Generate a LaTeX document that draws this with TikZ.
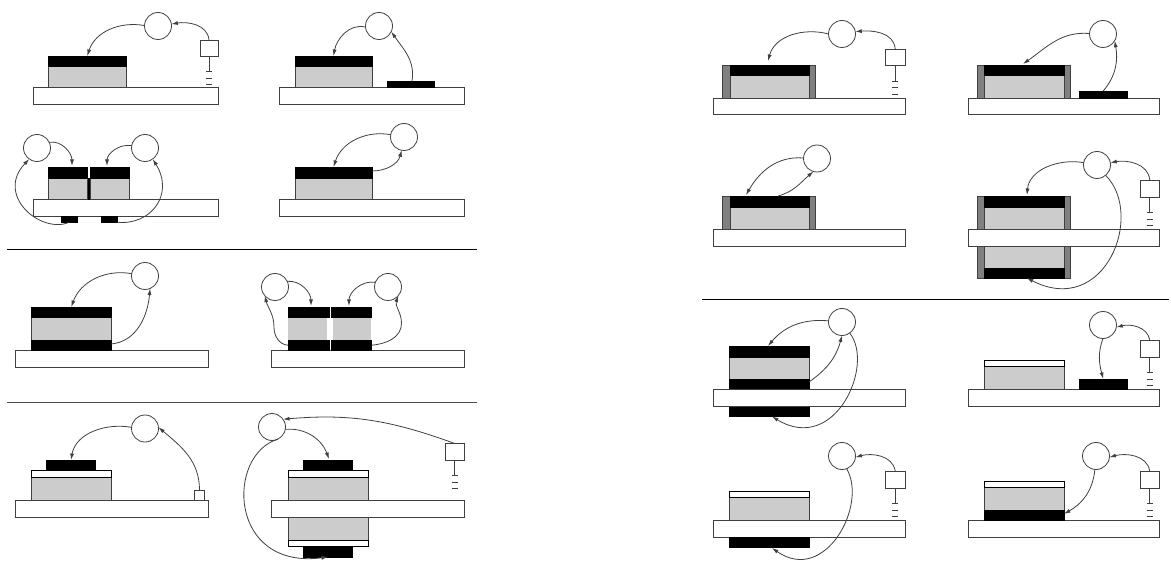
\documentclass[tikz,border=0pt]{standalone}
\usepackage{tikz}
\usetikzlibrary{arrows.meta,calc}

\tikzset{
  box/.style={rectangle, inner sep=0pt, outer sep=0pt, draw=black!75, line width=0.8pt},
  board/.style={box, fill=white},
  core/.style={box, fill=black!20},
  film/.style={box, draw=black, fill=white},
  plate/.style={box, draw=black, fill=black},
  seal/.style={box, fill=black!50},
  ring/.style={circle, inner sep=0pt, outer sep=0pt, minimum size=27pt, draw=black!75, line width=0.8pt, fill=white},
  wire/.style={black!75, line width=0.8pt},
  feed/.style={wire, -{Latex[length=6.5pt,width=4pt]}},
}
% slab: style, name, x0, y0, x1, y1
\newcommand{\slab}[6]{\node[#1, minimum width={#5-(#3)}, minimum height={#6-(#4)}] (#2) at ({(#3+#5)/2},{(#4+#6)/2}) {};}
% earth symbol under a supply box
\newcommand{\earth}[1]{
  \draw[wire] (#1.south) -- ++(0,15.5) coordinate (#1g);
  \foreach \dy in {0,6.7,13.3}
    \draw[wire] ($(#1g)+(-3,\dy)$) -- ++(6,0);
}

\begin{document}
\begin{tikzpicture}[x=1pt, y=-1pt]
  \useasboundingbox (0,0) rectangle (1171,561);
%
  \draw[line width=0.9pt] (7,249) -- (477,249);
  \draw[line width=0.9pt, black!70] (7,402.5) -- (477,402.5);
  \draw[line width=0.9pt] (702,299) -- (1169,299);
%
  % top left group
  \slab{board}{ba}{33}{87.5}{218}{104}
  \slab{core}{ka}{48.5}{66}{126}{87.5}
  \slab{plate}{pa}{48.5}{56}{126}{66}
  \node[ring] (ra) at (158,26) {};
  \slab{board}{sa}{200}{40}{218}{56}
  \earth{sa}
  \draw[feed] (ra.178) to[out=170,in=72] (pa.north);
  \draw[feed] (sa.north) to[out=95,in=10] (ra.8);
%
  \slab{board}{bb}{279.5}{87.5}{464.5}{104}
  \slab{core}{kb}{295}{66}{372}{87.5}
  \slab{plate}{pb}{295}{56}{372}{66}
  \slab{plate}{qb}{387}{81.5}{434}{87.5}
  \node[ring] (rb) at (379,26) {};
  \draw[feed] (rb.185) to[out=165,in=80] (pb.north);
  \draw[feed] (qb.65) to[out=80,in=-55] (rb.-25);
%
  \slab{board}{bc}{33}{199.5}{218}{216}
  \slab{plate}{gc}{87}{178}{89.5}{199.5}
  \slab{core}{kc}{48.5}{178}{87}{199.5}
  \slab{plate}{pc}{48.5}{167}{87}{178}
  \slab{core}{kd}{90.5}{178}{129}{199.5}
  \slab{plate}{pd}{90.5}{167}{129}{178}
  \slab{plate}{qc}{61}{216}{77}{222.5}
  \slab{plate}{qd}{101}{216}{117}{222.5}
  \node[ring] (rc) at (37,148) {};
  \node[ring] (rd) at (145,148) {};
  \coordinate (tc) at (72,166);
  \coordinate (td) at (107,166);
  \draw[feed] (rc.25) to[out=10,in=90] (tc);
  \draw[feed] (rd.170) to[out=170,in=90] (td);
  \draw[feed] (qc.south) .. controls (40,234) and (-5,195) .. (rc.-125);
  \draw[feed] (qd.-20) .. controls (150,226) and (175,195) .. (rd.-55);
%
  \slab{board}{be}{279.5}{199.5}{464.5}{216}
  \slab{core}{ke}{295}{178}{372}{199.5}
  \slab{plate}{pe}{295}{167}{372}{178}
  \node[ring] (re) at (404,137) {};
  \coordinate (te) at (372,171);
  \draw[feed] (re.170) to[out=170,in=72] (pe.north);
  \draw (te) edge[feed, out=0, in=-105] (re.-100);
%
  % second row, left
  \slab{board}{bf}{15.5}{350.5}{208.5}{367}
  \slab{core}{kf}{31.5}{317.5}{111}{340}
  \slab{plate}{pf}{31.5}{307}{111}{317.5}
  \slab{plate}{qf}{31.5}{340}{111}{350.5}
  \node[ring] (rf) at (145,276) {};
  \coordinate (tf) at (111,344);
  \draw[feed] (rf.170) to[out=170,in=70] (pf.north);
  \draw (tf) edge[feed, out=5, in=-95] (rf.-68);
%
  \slab{board}{bg}{271.5}{350.5}{464.5}{367}
  \fill[black!20] (288,317) rectangle (327,340);
  \fill[black!20] (333,317) rectangle (371,340);
  \slab{plate}{pg}{288}{307}{329}{317.5}
  \slab{plate}{qg}{288}{340}{329}{350.5}
  \slab{plate}{ph}{331}{307}{371.5}{317.5}
  \slab{plate}{qh}{331}{340}{371.5}{350.5}
  \node[ring] (rg) at (275,287) {};
  \node[ring] (rh) at (388,287) {};
  \coordinate (tg) at (311,306);
  \coordinate (th) at (349,306);
  \draw[feed] (rg.25) to[out=5,in=90] (tg);
  \draw[feed] (rh.160) to[out=170,in=90] (th);
  \draw[feed] (qg.west) to[out=175,in=-90] ++(-14,-18) to[out=90,in=-75] (rg.-140);
  \draw[feed] (qh.east) to[out=5,in=-90] ++(30,-22) to[out=90,in=-110] (rh.-40);
%
  % third row, left
  \slab{board}{bi}{15}{500}{208}{517}
  \slab{core}{ki}{31.5}{477}{111}{500}
  \slab{film}{fi}{31.5}{470.5}{111}{477}
  \slab{plate}{pi}{46.5}{460}{95.5}{470.5}
  \node[ring] (ri) at (145,428.5) {};
  \slab{board}{si}{194.5}{490}{204.5}{500}
  \draw[feed] (ri.175) to[out=170,in=80] (pi.north);
  \draw[feed] (si.north) to[out=90,in=-40] (ri.5);
%
  \slab{core}{kj}{288}{477}{368.5}{500}
  \slab{core}{kk}{288}{517}{368.5}{540}
  \slab{board}{bj}{271.5}{500}{464.5}{517}
  \slab{film}{fj}{288}{470.5}{368.5}{477}
  \slab{film}{fk}{288}{540}{368.5}{546.5}
  \slab{plate}{pj}{303.5}{460}{352.5}{470.5}
  \slab{plate}{pk}{303.5}{547}{352.5}{557}
  \node[ring] (rj) at (272,427) {};
  \slab{board}{sj}{445}{443.5}{464.5}{460}
  \earth{sj}
  \coordinate (tj) at (329,459);
  \draw[feed] (sj.north) to[out=160,in=5] (rj.35);
  \draw[feed] (rj.-10) to[out=5,in=110] (tj);
  \draw[feed] (rj.-65) .. controls (226,455) and (228,570) .. (pk.south);
%
  % top right group
  \slab{board}{bl}{713}{98}{905}{114.5}
  \slab{core}{kl}{730}{75}{809}{98}
  \slab{seal}{cl}{722.5}{65.5}{730}{98}
  \slab{seal}{dl}{809}{65.5}{815.5}{98}
  \slab{plate}{pl}{730}{65.5}{809}{75}
  \node[ring] (rl) at (842,34) {};
  \slab{board}{sl}{885.5}{49}{905}{65.5}
  \earth{sl}
  \coordinate (tl) at (768,61);
  \draw[feed] (rl.180) to[out=165,in=75] (tl);
  \draw[feed] (sl.north) to[out=95,in=5] (rl.10);
%
  \slab{board}{bm}{968}{98}{1159}{114.5}
  \slab{core}{km}{984}{75}{1064}{98}
  \slab{seal}{cm}{977.5}{65.5}{984}{98}
  \slab{seal}{dm}{1064}{65.5}{1070}{98}
  \slab{plate}{pm}{984}{65.5}{1064}{75}
  \slab{plate}{qm}{1079.5}{91}{1127}{98}
  \node[ring] (rm) at (1103,34) {};
  \coordinate (tm) at (1023,64);
  \draw[feed] (rm.178) to[out=175,in=35] (tm);
  \draw[feed] (qm.north) to[out=50,in=-80] (rm.-30);
%
  \slab{board}{bn}{713}{229}{905}{246}
  \slab{core}{kn}{730}{207}{809}{229}
  \slab{seal}{cn}{722.5}{196.5}{730}{229}
  \slab{seal}{dn}{809}{196.5}{815.5}{229}
  \slab{plate}{pn}{730}{196.5}{809}{207}
  \node[ring] (rn) at (817,158.5) {};
  \coordinate (tn) at (746,195);
  \coordinate (un) at (778,196);
  \draw[feed] (rn.178) to[out=175,in=60] (tn);
  \draw (un) edge[feed, out=15, in=-140] (rn.-105);
%
  \slab{core}{ko}{984}{207}{1064}{229}
  \slab{seal}{co}{977.5}{196.5}{984}{229}
  \slab{seal}{do}{1064}{196.5}{1070}{229}
  \slab{plate}{po}{984}{196.5}{1064}{207}
  \slab{core}{kp}{984}{246}{1064}{268.5}
  \slab{seal}{cp}{977.5}{246}{984}{278}
  \slab{seal}{dp}{1064}{246}{1070}{278}
  \slab{plate}{pp}{984}{268.5}{1064}{278}
  \slab{board}{bo}{968}{229}{1159}{246}
  \node[ring] (ro) at (1097,165) {};
  \slab{board}{so}{1140.5}{180}{1159}{197}
  \earth{so}
  \coordinate (to) at (1027,195);
  \draw[feed] (ro.170) to[out=170,in=85] (to);
  \draw[feed] (so.north) to[out=95,in=10] (ro.10);
  \draw[feed] (ro.-50) .. controls (1145,215) and (1105,318) .. (pp.-60);
%
  % lower right group
  \slab{core}{kq}{729.5}{357}{809}{379}
  \slab{plate}{pq}{729.5}{346}{809}{357}
  \slab{plate}{qq}{729.5}{379}{809}{389.5}
  \slab{plate}{uq}{729.5}{406}{809}{416.5}
  \slab{board}{bq}{713}{389.5}{905}{406}
  \node[ring] (rq) at (842,322) {};
  \coordinate (tq) at (768,346);
  \coordinate (vq) at (809,382);
  \coordinate (wq) at (772,416.5);
  \draw[feed] (rq.175) to[out=175,in=50] (tq);
  \draw (vq) edge[feed, out=35, in=-105] (rq.-90);
  \draw[feed] (rq.-55) .. controls (875,365) and (835,455) .. (wq);
%
  \slab{board}{br}{968}{389.5}{1159}{406}
  \slab{core}{kr}{984}{366.5}{1064}{389.5}
  \slab{film}{fr}{984}{360}{1064}{366.5}
  \slab{plate}{pr}{1079.5}{379}{1127}{389.5}
  \node[ring] (rr) at (1103,325) {};
  \slab{board}{sr}{1140.5}{340}{1159}{357}
  \earth{sr}
  \draw[feed] (sr.north) to[out=100,in=15] (rr.-10);
  \draw[feed] (rr.-90) to[out=-110,in=105] (pr.north);
%
  \slab{board}{bs}{713}{520.5}{905}{537}
  \slab{core}{ks}{729.5}{497.5}{809}{520.5}
  \slab{film}{fs}{729.5}{491}{809}{497.5}
  \slab{plate}{ps}{729.5}{537}{809}{547.5}
  \node[ring] (rs) at (842,456) {};
  \slab{board}{ss}{885.5}{471}{905}{488}
  \earth{ss}
  \coordinate (ts) at (772,548);
  \draw[feed] (ss.north) to[out=100,in=15] (rs.-5);
  \draw[feed] (rs.-70) .. controls (868,505) and (825,585) .. (ts);
%
  \slab{board}{bt}{968}{520.5}{1159}{537}
  \slab{core}{kt}{984}{487.5}{1064}{510}
  \slab{film}{ft}{984}{481}{1064}{487.5}
  \slab{plate}{pt}{984}{510}{1064}{520.5}
  \node[ring] (rt) at (1096,456) {};
  \slab{board}{st}{1140.5}{471}{1159}{488}
  \earth{st}
  \coordinate (tt) at (1064,514);
  \draw[feed] (st.north) to[out=100,in=15] (rt.-5);
  \draw[feed] (rt.-95) to[out=-95,in=30] (tt);
\end{tikzpicture}
\end{document}
